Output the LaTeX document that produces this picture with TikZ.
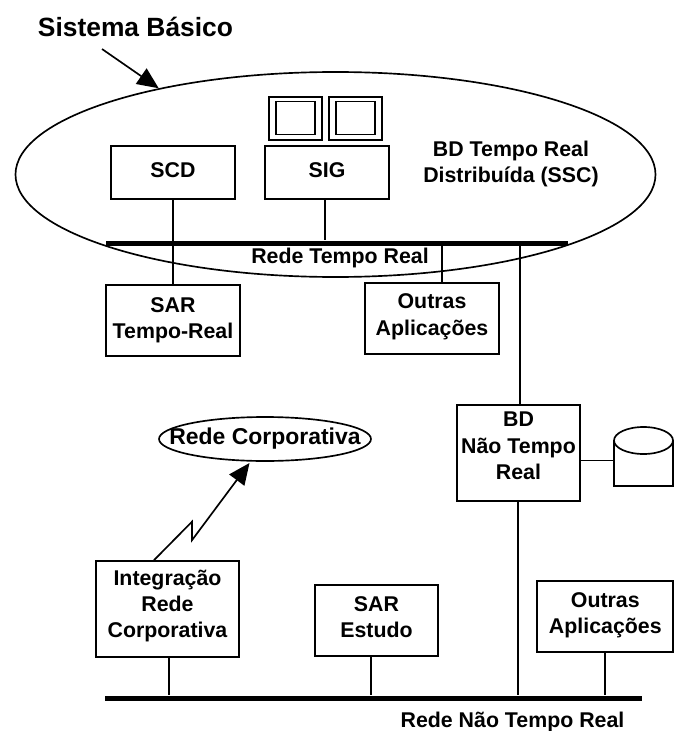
\documentclass[tikz,border=0pt]{standalone}
\usepackage{fontspec}
\setmainfont{Liberation Sans}
\usetikzlibrary{calc,arrows.meta,shapes.geometric}
\def\px{0.75pt}
\def\folga#1{\\[#1]\mbox{}}
\tikzset{
	sysbox/.style={draw, line width=1.25pt, inner sep=0pt, align=center, font=\fontsize{16}{19.8}\selectfont\bfseries},
	monitor/.style={draw, line width=1.25pt, inner sep=0pt},
	bus/.style={fill=black, inner sep=0pt},
	rotulo/.style={inner sep=0pt, align=center, font=\fontsize{16}{19.8}\selectfont\bfseries},
	nuvem/.style={draw, ellipse, line width=1.25pt, inner sep=0pt},
	liga/.style={line width=1.25pt},
	seta/.style={line width=1.25pt, -{Triangle[length=16pt,width=14pt]}}
}
\begin{document}
\begin{tikzpicture}[x=0.75pt, y=-0.75pt]
			\useasboundingbox (0, 0) rectangle (680, 731);
			
			\node[rotulo, font=\fontsize{19.8}{24}\selectfont\bfseries] (titulo) at (135.5, 27) {Sistema Básico};
			\coordinate (inicio) at (102, 49);
			\node[nuvem, minimum width=640*\px, minimum height=205*\px] (sistema) at (335.5, 174.5) {};
			\draw[seta] (inicio) -- (sistema.154);
			
			\node[monitor, minimum width=53*\px, minimum height=43*\px] (tela1) at (295.5, 118.5) {};
			\node[monitor, minimum width=39*\px, minimum height=33*\px] (vidro1) at (295.5, 118) {};
			\node[monitor, minimum width=53*\px, minimum height=43*\px] (tela2) at (355.5, 118.5) {};
			\node[monitor, minimum width=39*\px, minimum height=33*\px] (vidro2) at (355.5, 118) {};
			
			\node[sysbox, minimum width=124*\px, minimum height=53*\px] (scd) at (173, 172.5) {SCD\folga{-16.5pt}};
			\node[sysbox, minimum width=124*\px, minimum height=53*\px] (sig) at (327, 172.5) {SIG\folga{-16.5pt}};
			\node[rotulo] (ssc) at (511, 164) {BD Tempo Real\\Distribuída (SSC)};
			
			\node[bus, minimum width=462*\px, minimum height=5.5*\px] (rtr) at (337, 243.3) {};
			\node[rotulo] (rtrtxt) at (340, 258) {Rede Tempo Real};
			
			\node[sysbox, minimum width=134*\px, minimum height=71*\px] (sar) at (173, 320.5) {SAR\\Tempo-Real\folga{-16pt}};
			\node[sysbox, minimum width=134*\px, minimum height=71*\px] (outras) at (432, 318.5) {Outras\\Aplicações\folga{-14pt}};
			\node[sysbox, minimum width=123*\px, minimum height=96*\px] (bd) at (518.5, 453) {BD\\Não Tempo\\Real\folga{-9pt}};
			
			\draw[liga] (scd.south) -- (sar.north);
			\draw[liga] ($(sig.south)+(-2, 0)$) -- ($(sig.south |- rtr.north)+(-2, 0)$);
			\draw[liga] ($(rtr.south -| outras.north)+(10, 0)$) -- ($(outras.north)+(10, 0)$);
			\draw[liga] ($(rtr.south -| bd.north)+(1.5, 0)$) -- ($(bd.north)+(1.5, 0)$);
			
			\draw[line width=1.25pt] (643.5, 440.5) ellipse [x radius=29.5, y radius=13.5];
			\draw[line width=1.25pt] (614, 440.5) -- (614, 486) -- (673, 486) -- (673, 440.5);
			\coordinate (disco) at (614, 460.5);
			\draw[liga] (bd.east |- disco) -- (disco);
			
			\node[nuvem, minimum width=212*\px, minimum height=44*\px, font=\fontsize{17.2}{20}\selectfont\bfseries] (corp) at (265, 439) {\makebox[0pt]{Rede Corporativa}};
			\node[sysbox, minimum width=143*\px, minimum height=96*\px] (integ) at (167.5, 609) {Integração\\Rede\\Corporativa\folga{-12pt}};
			\coordinate (raio) at (249.5, 463);
			\draw[seta] ($(integ.north)+(-13.5, 0)$) -- ++(38, -38.5) -- ++(0, 18.5) -- (raio);
			
			\node[sysbox, minimum width=123*\px, minimum height=71*\px] (sare) at (376.5, 620.5) {SAR\\Estudo\folga{-15pt}};
			\node[sysbox, minimum width=136*\px, minimum height=71*\px] (outras2) at (605.3, 616.8) {Outras\\Aplicações\folga{-14pt}};
			
			\node[bus, minimum width=537*\px, minimum height=5*\px] (rntr) at (373.5, 698.2) {};
			\node[rotulo] (rntrtxt) at (512.5, 721.5) {Rede Não Tempo Real};
			
			\draw[liga] ($(integ.south)+(1.5, 0)$) -- ($(integ.south |- rntr.north)+(1.5, 0)$);
			\draw[liga] ($(sare.south)+(-5.2, 0)$) -- ($(sare.south |- rntr.north)+(-5.2, 0)$);
			\draw[liga] ($(bd.south)+(-0.4, 0)$) -- ($(bd.south |- rntr.north)+(-0.4, 0)$);
			\draw[liga] (outras2.south) -- (outras2.south |- rntr.north);
		\end{tikzpicture}
\end{document}
